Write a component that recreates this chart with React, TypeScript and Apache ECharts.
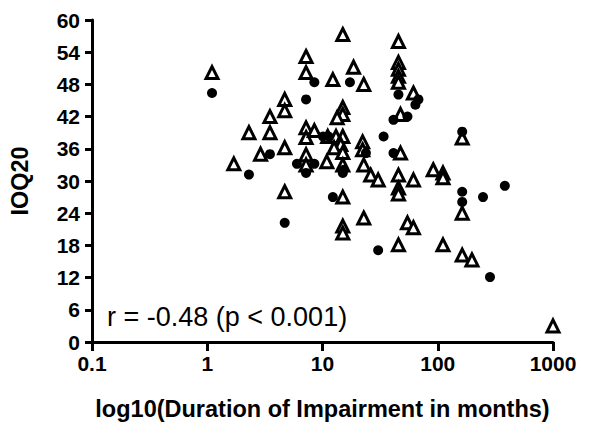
import React, { useEffect, useRef } from "react";
import * as echarts from "echarts";

const xTickLabels = ["0.1", "1", "10", "100", "1000"];
const yTickStep = 6;

const circleMonths = [1.1, 2.3, 3.5, 4.7, 7.2, 8.5, 6.0, 8.5, 7.2, 10.1, 11.3, 15.0, 12.3, 17.3, 45.6, 68, 64, 41.3, 54.6, 33.9, 23.8, 41.3, 15.3, 163, 163, 163, 247, 382, 30.4, 284];
const circleScores = [46.4, 31.2, 35.0, 22.2, 45.2, 48.4, 33.2, 33.2, 31.5, 38.3, 38.3, 31.5, 27.0, 48.4, 46.1, 45.2, 44.2, 41.4, 42.0, 38.3, 35.2, 35.2, 32.1, 39.2, 28.0, 26.1, 27.0, 29.1, 17.1, 12.1];

const triangleMonths = [1.1, 1.7, 2.3, 2.9, 3.5, 3.5, 4.7, 4.7, 4.7, 4.7, 7.2, 7.2, 7.2, 7.2, 8.5, 7.2, 7.2, 11.1, 13.1, 15.0, 14.4, 12.6, 15.0, 10.9, 15.0, 15.0, 15.0, 15.0, 15.0, 15.0, 15.0, 13.4, 12.3, 22.8, 18.6, 45.6, 45.6, 45.6, 45.6, 45.6, 61.5, 47.5, 22.3, 22.3, 22.8, 26.2, 30.4, 47.5, 45.6, 61.5, 45.6, 45.6, 91.4, 111, 111, 163, 163, 22.8, 54.6, 61.5, 45.6, 111, 163, 198, 1000];
const triangleScores = [50.2, 33.2, 39.0, 35.0, 39.0, 42.0, 45.2, 43.1, 36.2, 28.0, 53.2, 50.2, 39.9, 38.1, 39.4, 34.9, 33.0, 38.3, 38.3, 38.3, 36.8, 36.2, 35.3, 33.6, 33.0, 27.0, 21.6, 20.3, 57.3, 43.7, 42.4, 41.8, 48.9, 48.0, 51.2, 56.0, 52.1, 50.8, 49.5, 48.4, 46.4, 42.4, 37.3, 35.8, 33.0, 31.1, 30.2, 35.2, 31.1, 30.2, 28.7, 27.6, 32.1, 31.5, 30.6, 38.0, 24.0, 23.1, 22.2, 21.3, 18.1, 18.1, 16.2, 15.3, 3.0];

const annotation = "r = -0.48 (p < 0.001)";
const xTitle = "log10(Duration of Impairment in months)";
const yTitle = "IOQ20";

const FONT = "'Liberation Sans', Arial, sans-serif";

export default function App() {
  const ref = useRef<HTMLDivElement>(null);
  useEffect(() => {
    const chart = echarts.init(ref.current!, null, { renderer: "svg" });
    const circles = circleMonths.map((m, i) => [m, circleScores[i]]);
    const triangles = triangleMonths.map((m, i) => [m, triangleScores[i]]);
    chart.setOption({
      animation: false,
      backgroundColor: "#ffffff",
      grid: { left: 90, right: 50, top: 20, bottom: 88 },
      xAxis: {
        type: "log",
        logBase: 10,
        min: 0.1,
        max: 1000,
        name: xTitle,
        nameLocation: "middle",
        nameGap: 55,
        nameTextStyle: { fontFamily: FONT, fontWeight: "bold", fontSize: 23.5, color: "#000" },
        axisLine: { onZero: false, lineStyle: { color: "#000", width: 3 } },
        axisTick: { length: 9, lineStyle: { color: "#000", width: 3 } },
        axisLabel: {
          margin: 11,
          fontFamily: FONT,
          fontWeight: "bold",
          fontSize: 21,
          color: "#000",
          formatter: (v: number) => xTickLabels[Math.round(Math.log10(v)) + 1] ?? "",
        },
        splitLine: { show: false },
        minorTick: { show: false },
      },
      yAxis: {
        type: "value",
        min: 0,
        max: 60,
        interval: yTickStep,
        name: yTitle,
        nameLocation: "middle",
        nameGap: 60,
        nameRotate: 90,
        nameTextStyle: { fontFamily: FONT, fontWeight: "bold", fontSize: 23.5, color: "#000" },
        axisLine: { show: true, onZero: false, lineStyle: { color: "#000", width: 3 } },
        axisTick: { show: true, length: 7, lineStyle: { color: "#000", width: 3 } },
        axisLabel: { margin: 12, fontFamily: FONT, fontWeight: "bold", fontSize: 21, color: "#000" },
        splitLine: { show: false },
      },
      series: [
        {
          type: "scatter",
          data: triangles,
          symbol: "triangle",
          symbolSize: 12,
          clip: false,
          itemStyle: { color: "#ffffff", borderColor: "#000000", borderWidth: 3, opacity: 1 },
        },
        {
          type: "scatter",
          data: circles,
          symbol: "circle",
          symbolSize: 10,
          clip: false,
          itemStyle: { color: "#000000", opacity: 1 },
        },
      ],
      graphic: [
        {
          type: "text",
          left: 107,
          top: 303,
          style: { text: annotation, fontFamily: FONT, fontSize: 27, fill: "#000" },
        },
      ],
    });
    return () => chart.dispose();
  }, []);
  return <div ref={ref} style={{ position: "absolute", left: 0, top: 0, width: 603, height: 430 }} />;
}
